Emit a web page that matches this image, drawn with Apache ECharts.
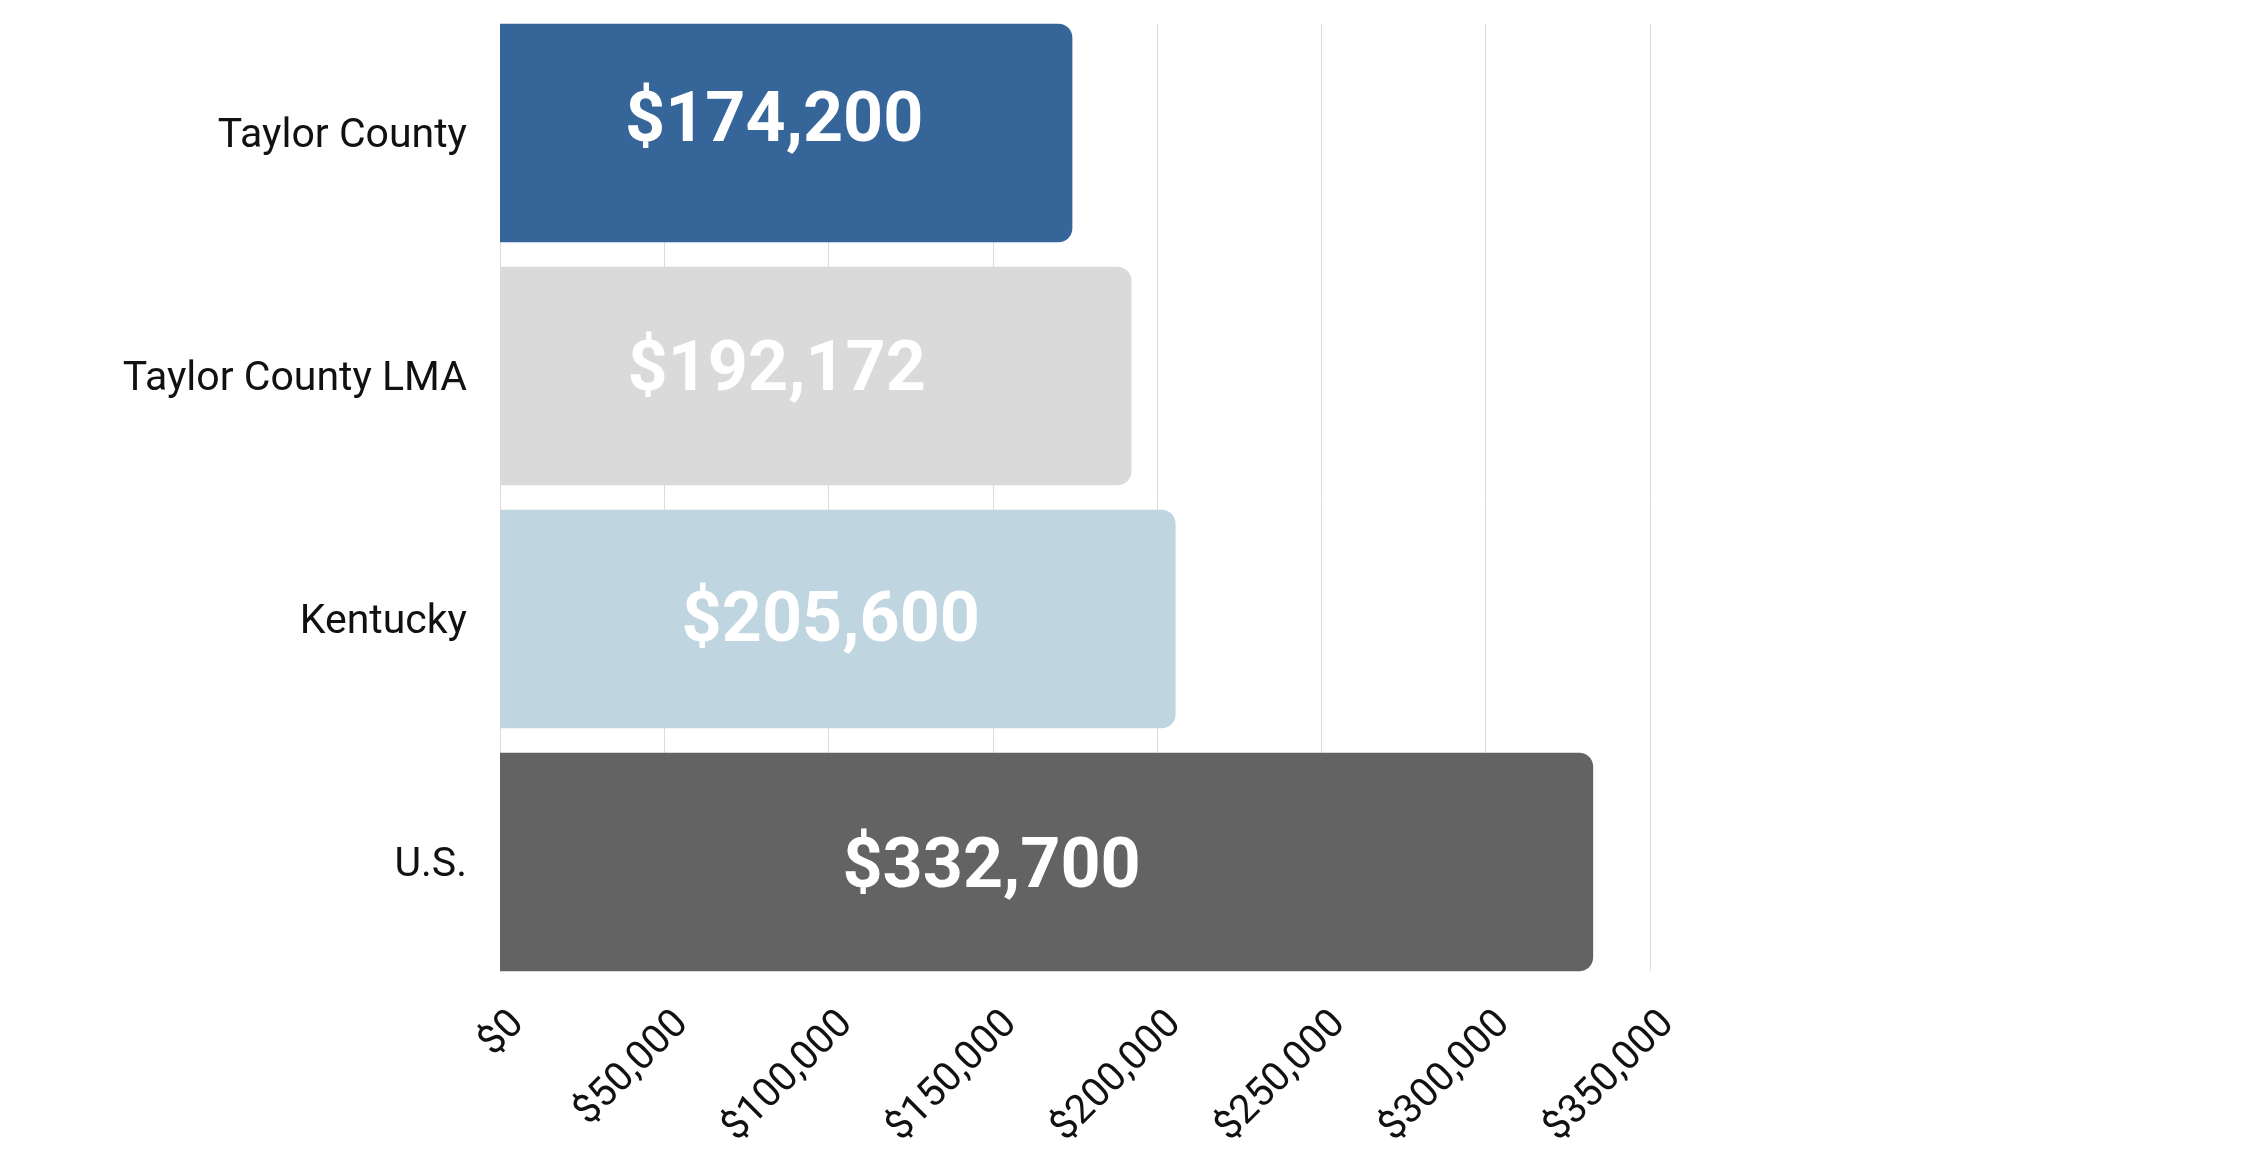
<!DOCTYPE html>
<html>
<head>
<meta charset="utf-8">
<title>Median home value</title>
<script src="https://cdn.jsdelivr.net/npm/echarts@6/dist/echarts.min.js"></script>
<style>
  html, body { margin: 0; padding: 0; background: #fff; }
  #chart { width: 2245px; height: 1168px; }
</style>
</head>
<body>
<div id="chart"></div>
<script>
// data
const categories = ['Taylor County', 'Taylor County LMA', 'Kentucky', 'U.S.'];
const values = [174200, 192172, 205600, 332700];
const axisMax = 350000;
const axisStep = 50000;

// styles
const barColors = ['#36659a', '#dadada', '#bfd5e0', '#626362'];
// value labels sit a little off-centre in the original
const labelOffsets = [[-12, -10], [-39, -4], [-7, 4], [-55, 7]];

const money = (v) => '$' + Number(v).toLocaleString('en-US');

const chart = echarts.init(document.getElementById('chart'));

const option = {
  backgroundColor: '#ffffff',
  animation: false,
  textStyle: { fontFamily: 'Roboto' },
  grid: [
    // bars
    { left: 500, right: 595, top: 11.5, bottom: 184.5 },
    // grid lines
    { left: 500, right: 595, top: 24, bottom: 197 },
    // tick labels (shifted like the original)
    { left: 518, right: 577, top: 24, bottom: 197 }
  ],
  xAxis: [
    {
      gridIndex: 0, type: 'value', min: 0, max: axisMax, interval: axisStep,
      axisLine: { show: false }, axisTick: { show: false },
      axisLabel: { show: false }, splitLine: { show: false }
    },
    {
      gridIndex: 1, type: 'value', min: 0, max: axisMax, interval: axisStep,
      axisLine: { show: false }, axisTick: { show: false },
      axisLabel: { show: false },
      splitLine: { show: true, lineStyle: { color: '#dcdcdc', width: 1 } }
    },
    {
      gridIndex: 2, type: 'value', min: 0, max: axisMax, interval: axisStep,
      axisLine: { show: false }, axisTick: { show: false },
      splitLine: { show: false },
      axisLabel: {
        show: true,
        rotate: 45,
        margin: 47,
        fontSize: 40,
        color: '#111111',
        fontFamily: 'Roboto',
        formatter: money
      }
    }
  ],
  yAxis: [
    {
      gridIndex: 0, type: 'category', data: categories, inverse: true,
      axisLine: { show: false }, axisTick: { show: false },
      axisLabel: {
        margin: 33,
        formatter: (v) => '{c|' + v + '}',
        rich: {
          c: {
            fontSize: 41, color: '#111111', fontFamily: 'Roboto',
            padding: [8, 0, 0, 0]
          }
        }
      }
    },
    {
      gridIndex: 1, type: 'category', data: categories, inverse: true,
      axisLine: { show: false }, axisTick: { show: false }, axisLabel: { show: false }
    },
    {
      gridIndex: 2, type: 'category', data: categories, inverse: true,
      axisLine: { show: false }, axisTick: { show: false }, axisLabel: { show: false }
    }
  ],
  series: [
    {
      type: 'bar',
      xAxisIndex: 0,
      yAxisIndex: 0,
      barCategoryGap: '10%',
      z: 3,
      data: values.map((v, i) => ({
        value: v,
        itemStyle: { color: barColors[i], borderRadius: [0, 14, 14, 0] },
        label: { offset: labelOffsets[i] }
      })),
      label: {
        show: true,
        position: 'inside',
        color: '#ffffff',
        fontSize: 70,
        fontWeight: 'bold',
        fontFamily: 'Roboto',
        formatter: (p) => money(p.value)
      }
    }
  ]
};

chart.setOption(option);
</script>
</body>
</html>
